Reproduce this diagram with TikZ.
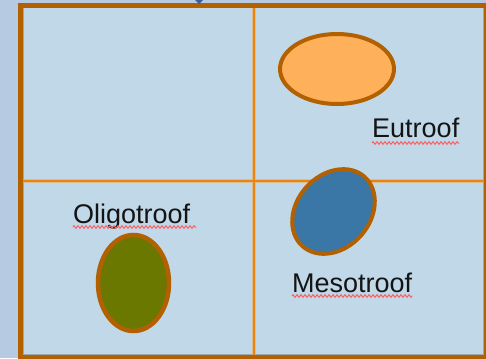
\documentclass[tikz,border=0pt]{standalone}
\usepackage{fontspec}
\setmainfont{Liberation Sans}
\usetikzlibrary{shapes.geometric,decorations.pathmorphing}

\definecolor{pagebg}{RGB}{182,202,226}
\definecolor{cellbg}{RGB}{192,216,232}
\definecolor{frame}{RGB}{178,96,0}
\definecolor{gridor}{RGB}{236,132,16}
\definecolor{halo}{RGB}{240,170,90}
\definecolor{edgegrey}{RGB}{160,166,172}
\definecolor{peach}{RGB}{255,176,90}
\definecolor{steel}{RGB}{58,118,166}
\definecolor{olive}{RGB}{106,120,0}
\definecolor{squiggle}{RGB}{250,96,96}
\definecolor{marker}{RGB}{58,96,156}

\tikzset{
  blob/.style={ellipse, draw=frame, inner sep=0pt, line width=4pt},
  label/.style={anchor=base west, inner sep=0pt, text=black!92,
    font=\fontsize{27}{31}\selectfont},
  spell/.style={draw=squiggle, line width=1pt,
    decorate, decoration={zigzag, segment length=4pt, amplitude=1.3pt}},
  gridline/.style={line width=2pt, draw=gridor}
}

\begin{document}
\begin{tikzpicture}[x=1pt, y=-1pt]
  % canvas
  \fill[pagebg] (0,0) rectangle (486,358);
  \useasboundingbox (0,0) rectangle (486,358);

  % table cells
  \fill[cellbg] (20.5,5.5) rectangle (485.5,356.5);
  \draw[edgegrey, line width=0.8pt] (23.4,7.4) rectangle (483,354.6);

  % grid lines between the four cells
  \coordinate (vt) at (254,7);
  \coordinate (vb) at (254,355);
  \coordinate (hl) at (23,181);
  \coordinate (hr) at (483,181);
  \draw[halo, line width=3.5pt, opacity=0.6] (vt) -- (vb) (hl) -- (hr);
  \draw[gridline] (vt) -- (vb) (hl) -- (hr);

  % outer frame
  \draw[frame, line width=4.5pt] (20.5,5.5) rectangle (486,357.5);

  % small marker above the frame
  \fill[marker] (195,0) -- (203,0) -- (199,4) -- cycle;

  % ellipses
  \node[blob, fill=peach, minimum width=114pt, minimum height=70pt] (eu) at (337,69) {};
  \node[blob, fill=steel, minimum width=93pt, minimum height=73pt, rotate=48] (me) at (333.5,211.5) {};
  \node[blob, fill=olive, minimum width=71pt, minimum height=96pt, line width=4.5pt] (ol) at (133.5,283) {};

  % labels
  \node[label] (teu) at (372,138) {Eutroof};
  \node[label] (tol) at (73,223) {Oligotroof};
  \node[label] (tme) at (292,292) {Mesotroof};

  % spell-check underlines
  \draw[spell] ([yshift=-5pt]teu.base west) -- ([yshift=-5pt]teu.base east);
  \draw[spell] ([yshift=-4pt]tol.base west) -- ([xshift=6pt,yshift=-4pt]tol.base east);
  \draw[spell] ([yshift=-4pt]tme.base west) -- ([yshift=-4pt]tme.base east);
\end{tikzpicture}
\end{document}
